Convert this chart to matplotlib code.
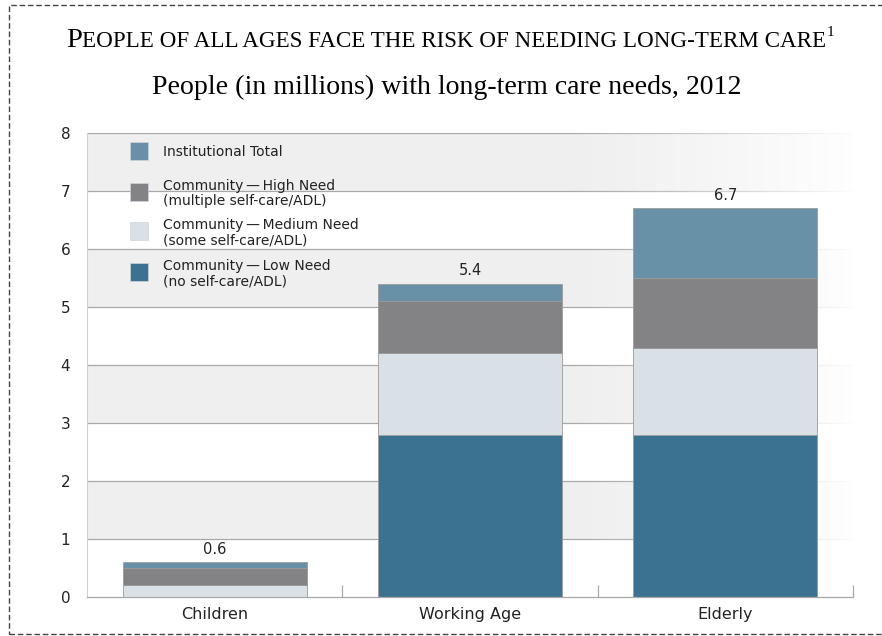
import numpy as np
import matplotlib
matplotlib.use("Agg")
import matplotlib.pyplot as plt
from matplotlib.patches import Rectangle

# people (millions) with long-term care needs, 2012
groups = ["Children", "Working Age", "Elderly"]
low_need = [0.0, 2.8, 2.8]
medium_need = [0.2, 1.4, 1.5]
high_need = [0.3, 0.9, 1.2]
institutional = [0.1, 0.3, 1.2]
totals = [0.6, 5.4, 6.7]

series_names = [
    "Community\u2009\u2014\u2009Low Need\n(no self-care/ADL)",
    "Community\u2009\u2014\u2009Medium Need\n(some self-care/ADL)",
    "Community\u2009\u2014\u2009High Need\n(multiple self-care/ADL)",
    "Institutional Total",
]
colors = ["#3c7291", "#d9e1e7", "#838386", "#6890a6"]

sans = "DejaVu Sans"
serif = "Liberation Serif"
W, H = 882, 636

fig = plt.figure(figsize=(W / 100, H / 100), dpi=100)
ax = fig.add_axes([87 / W, 1 - 597 / H, 766 / W, 464 / H])
ax.set_xlim(-0.5, 2.5)
ax.set_ylim(0, 8)

# alternating bands and grid lines
for k in range(8):
    if k % 2 == 1:
        ax.axhspan(k, k + 1, color="#efefef", lw=0, zorder=0.5)
for k in range(1, 9):
    ax.axhline(k, color="#a8a8a8", lw=0.9, zorder=0.6)

# fade the background out to white on the right
ramp = np.clip((np.linspace(0, 1, 400) - 0.62) / 0.38, 0, 1) ** 1.2
fade = np.ones((1, 400, 4))
fade[0, :, 3] = ramp * 0.97
ax.imshow(fade, extent=[0, 1, 0, 1], transform=ax.transAxes, aspect="auto",
          zorder=1, interpolation="bilinear")

x = np.arange(len(groups))
bottom = np.zeros(len(groups))
for vals, col in zip([low_need, medium_need, high_need, institutional], colors):
    ax.bar(x, vals, 0.72, bottom=bottom, color=col, edgecolor="#9b9b9b",
           linewidth=0.6, zorder=2)
    bottom += np.array(vals)

for xi, t in zip(x, totals):
    ax.annotate(f"{t:.1f}", (xi, t), xytext=(0, 4), textcoords="offset points",
                ha="center", va="bottom", fontsize=10.5, family=sans,
                color="#222222", zorder=3)

ax.set_xticks(x)
ax.set_xticklabels(groups, fontsize=11.5, family=sans, color="#222222")
ax.tick_params(axis="x", length=0, pad=7)
ax.set_xticks([0.5, 1.5, 2.5], minor=True)
ax.tick_params(axis="x", which="minor", direction="in", length=9,
               color="#a8a8a8", width=0.9)
ax.set_yticks(range(9))
ax.set_yticklabels([str(v) for v in range(9)], fontsize=11, family=sans,
                   color="#222222")
ax.tick_params(axis="y", length=0, pad=12)

for side in ["top", "right"]:
    ax.spines[side].set_visible(False)
ax.spines["left"].set_color("#d0d0d0")
ax.spines["left"].set_linewidth(0.8)
ax.spines["bottom"].set_color("#a8a8a8")
ax.spines["bottom"].set_linewidth(0.9)

# legend: swatch and label per series, top entry first
legend_rows = [151, 192, 231, 272]
for row, name, col in zip(legend_rows, series_names[::-1], colors[::-1]):
    fig.add_artist(Rectangle((130 / W, 1 - (row + 9) / H), 18 / W, 18 / H,
                             transform=fig.transFigure, facecolor=col,
                             edgecolor="#cfd5da", lw=0.5, zorder=3))
    fig.text(163 / W, 1 - (row + 1.5) / H, name, family=sans, fontsize=10,
             va="center", ha="left", color="#222222", linespacing=1.1,
             zorder=3)

# title in small caps: large initial, smaller capitals, footnote mark
renderer = fig.canvas.get_renderer()
y_base = 1 - 47 / H
t_big = fig.text(0, y_base, "P", family=serif, fontsize=20.5, va="baseline")
t_small = fig.text(0, y_base, "EOPLE OF ALL AGES FACE THE RISK OF NEEDING LONG-TERM CARE",
                   family=serif, fontsize=16.6, va="baseline")
t_sup = fig.text(0, y_base + 11 / H, "1", family=serif, fontsize=11, va="baseline")
widths = [t.get_window_extent(renderer).width for t in (t_big, t_small, t_sup)]
x0 = (450 - sum(widths) / 2) / W
for t, w in zip((t_big, t_small, t_sup), widths):
    t.set_x(x0)
    x0 += w / W

fig.text(447 / W, 1 - 94 / H, "People (in millions) with long-term care needs, 2012",
         family=serif, fontsize=20.1, ha="center", va="baseline")

# dashed frame
fig.add_artist(Rectangle((9 / W, 2 / H), 1.05, 629 / H, transform=fig.transFigure,
                         fill=False, edgecolor="#444444", lw=1.0, ls=(0, (4, 2)),
                         clip_on=False))

fig.savefig("out.png", dpi=100)
